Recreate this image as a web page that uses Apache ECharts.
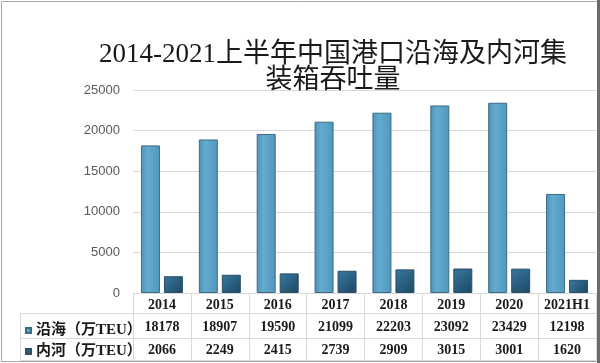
<!DOCTYPE html>
<html>
<head>
<meta charset="utf-8">
<script src="https://cdn.jsdelivr.net/npm/echarts@6/dist/echarts.min.js"></script>
<style>html,body{margin:0;padding:0;background:#fff}#c{width:600px;height:363px}</style>
</head>
<body>
<div id="c"></div>
<script>
const categories = ['2014','2015','2016','2017','2018','2019','2020','2021H1'];
const coastal = [18178, 18907, 19590, 21099, 22203, 23092, 23429, 12198];
const inland = [2066, 2249, 2415, 2739, 2909, 3015, 3001, 1620];
const seriesNames = ['沿海（万TEU）', '内河（万TEU）'];
const titleLines = ['2014-2021上半年中国港口沿海及内河集', '装箱吞吐量'];

const chart = echarts.init(document.getElementById('c'), null, {renderer: 'canvas'});
const lineColor = '#d9d9d9';
const tableFont = '"Liberation Serif", "Noto Sans CJK SC", serif';
const legendText = {fontSize: 15, fontWeight: 'bold', color: '#1a1a1a', fontFamily: tableFont};
const option = {
  backgroundColor: '#fff',
  animation: false,
  title: {
    text: titleLines.join('\n'),
    left: 328, textAlign: 'center', top: 37,
    textStyle: {fontSize: 27, lineHeight: 26, fontWeight: 'normal', color: '#1a1a1a',
      fontFamily: '"Liberation Serif", "Noto Sans CJK SC", serif'}
  },
  legend: [
    {orient: 'horizontal', left: 20, top: 318, itemWidth: 5, itemHeight: 5, icon: 'rect',
      itemGap: 2, data: [seriesNames[0]], textStyle: legendText},
    {orient: 'horizontal', left: 20, top: 339, itemWidth: 5, itemHeight: 5, icon: 'rect',
      itemGap: 2, data: [seriesNames[1]], textStyle: legendText}
  ],
  grid: {left: 133, right: 4, top: 90, bottom: 70},
  xAxis: [
    {type: 'category', data: categories, position: 'bottom',
      axisLine: {lineStyle: {color: lineColor}},
      axisTick: {show: true, length: 67, lineStyle: {color: lineColor}},
      axisLabel: {interval: 0, margin: 5, fontSize: 14, fontWeight: 'bold', color: '#1a1a1a', fontFamily: tableFont}},
    {type: 'category', data: coastal.map(String), position: 'bottom', offset: 22,
      axisLine: {show: false}, axisTick: {show: false},
      axisLabel: {interval: 0, margin: 5, fontSize: 14, fontWeight: 'bold', color: '#1a1a1a', fontFamily: tableFont}},
    {type: 'category', data: inland.map(String), position: 'bottom', offset: 45,
      axisLine: {show: false}, axisTick: {show: false},
      axisLabel: {interval: 0, margin: 5, fontSize: 14, fontWeight: 'bold', color: '#1a1a1a', fontFamily: tableFont}}
  ],
  yAxis: {
    type: 'value', min: 0, max: 25000, interval: 5000,
    axisLine: {show: false}, axisTick: {show: false},
    splitLine: {lineStyle: {color: lineColor}},
    axisLabel: {fontSize: 13, color: '#595959', margin: 13, fontFamily: '"Liberation Sans", sans-serif',
      formatter: function (v) { return String(v); }}
  },
  series: [
    {name: seriesNames[0], type: 'bar', data: coastal, barWidth: 19, barGap: '21%',
      itemStyle: {
        color: new echarts.graphic.LinearGradient(0, 0, 1, 0, [
          {offset: 0, color: '#4f93b8'}, {offset: 0.35, color: '#63abcf'}, {offset: 1, color: '#5297bc'}]),
        borderColor: '#3b6b85', borderWidth: 1
      }},
    {name: seriesNames[1], type: 'bar', data: inland, barWidth: 19,
      itemStyle: {
        color: new echarts.graphic.LinearGradient(0, 0, 1, 1, [
          {offset: 0, color: '#3878a0'}, {offset: 1, color: '#1e4862'}]),
        borderColor: '#2a4f66', borderWidth: 1
      }}
  ],
  graphic: [
    {type: 'line', shape: {x1: 20, y1: 313.5, x2: 596, y2: 313.5}, style: {stroke: lineColor, lineWidth: 1}},
    {type: 'line', shape: {x1: 20, y1: 338.5, x2: 596, y2: 338.5}, style: {stroke: lineColor, lineWidth: 1}},
    {type: 'line', shape: {x1: 20, y1: 360.5, x2: 596, y2: 360.5}, style: {stroke: lineColor, lineWidth: 1}},
    {type: 'line', shape: {x1: 20.5, y1: 313, x2: 20.5, y2: 360}, style: {stroke: lineColor, lineWidth: 1}},
    {type: 'rect', shape: {x: 1.5, y: 1.5, width: 596, height: 360}, style: {fill: 'none', stroke: '#a6a6a6', lineWidth: 1}},
    {type: 'rect', shape: {x: 597, y: 0, width: 3, height: 363}, style: {fill: '#6b6b6b'}}
  ]
};
chart.setOption(option);
</script>
</body>
</html>
